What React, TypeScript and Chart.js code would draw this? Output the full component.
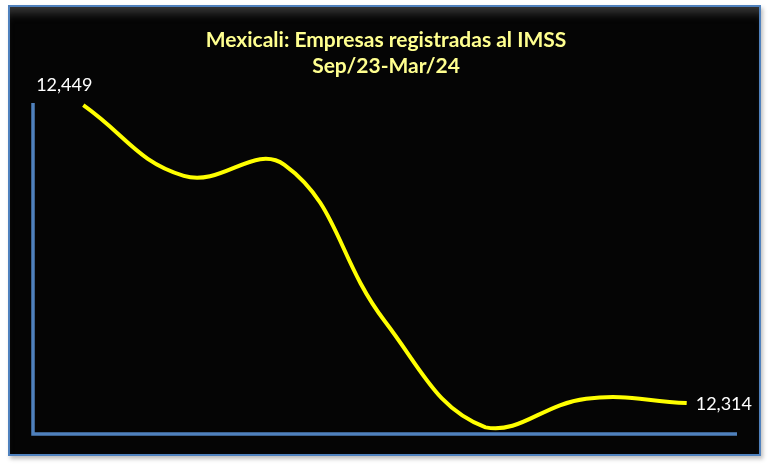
import React, { useEffect, useRef } from "react";
import { Chart, registerables } from "chart.js";

Chart.register(...registerables);

const categories = ["Sep/23", "Oct/23", "Nov/23", "Dec/23", "Jan/24", "Feb/24", "Mar/24"];
const empresas = [12449, 12417, 12422, 12351, 12303, 12316, 12314];
const titleLines = ["Mexicali: Empresas registradas al IMSS", "Sep/23-Mar/24"];
const yMin = 12300;
const yMax = 12450;

const FONT = "Lato, 'Open Sans', 'Liberation Sans', sans-serif";

const fmt = (v: number) => v.toLocaleString("en-US");

const overlayPlugin = {
  id: "overlay",
  afterDatasetsDraw(chart: any) {
    const { ctx, chartArea } = chart;
    ctx.save();
    // axis lines
    ctx.strokeStyle = "#4f81bd";
    ctx.lineWidth = 3.5;
    ctx.beginPath();
    ctx.moveTo(chartArea.left, chartArea.top);
    ctx.lineTo(chartArea.left, chartArea.bottom);
    ctx.lineTo(chartArea.right, chartArea.bottom);
    ctx.stroke();

    // title
    ctx.fillStyle = "#ffff8f";
    ctx.font = `bold 21px ${FONT}`;
    ctx.textAlign = "center";
    ctx.textBaseline = "middle";
    ctx.fillText(titleLines[0], 386, 40);
    ctx.fillText(titleLines[1], 386, 66);

    // data labels
    const meta = chart.getDatasetMeta(0);
    const first = meta.data[0];
    const last = meta.data[meta.data.length - 1];
    ctx.fillStyle = "#ffffff";
    ctx.font = `18px ${FONT}`;
    ctx.textAlign = "center";
    ctx.fillText(fmt(empresas[0]), first.x - 19, first.y - 20);
    ctx.textAlign = "left";
    ctx.fillText(fmt(empresas[empresas.length - 1]), last.x + 9, last.y + 1);
    ctx.restore();
  },
};

export default function App() {
  const ref = useRef<HTMLCanvasElement | null>(null);
  useEffect(() => {
    if (!ref.current) return;
    const chart = new Chart(ref.current, {
      type: "line",
      data: {
        labels: categories,
        datasets: [
          {
            data: empresas,
            borderColor: "#ffff00",
            borderWidth: 4,
            pointRadius: 0,
            tension: 0.42,
            fill: false,
            clip: false as any,
          },
        ],
      },
      options: {
        animation: false,
        responsive: false,
        maintainAspectRatio: false,
        layout: { padding: { left: 33, right: 33, top: 103, bottom: 36 } },
        plugins: { legend: { display: false }, title: { display: false }, tooltip: { enabled: false } },
        scales: {
          x: { display: false, offset: true },
          y: { display: false, min: yMin, max: yMax },
        },
      },
      plugins: [overlayPlugin],
    });
    return () => chart.destroy();
  }, []);

  return (
    <div style={{ position: "absolute", left: 0, top: 0, width: 770, height: 470, background: "#ffffff" }}>
      <div
        style={{
          position: "absolute",
          left: 8,
          top: 5,
          width: 753,
          height: 451,
          boxSizing: "border-box",
          background: "#050505",
          border: "2px solid #4f81bd",
          boxShadow: "2px 3px 4px rgba(0,0,0,0.25), inset 0 12px 10px -6px rgba(90,90,90,0.6)",
        }}
      />
      <canvas ref={ref} width={770} height={470} style={{ position: "absolute", left: 0, top: 0 }} />
    </div>
  );
}
